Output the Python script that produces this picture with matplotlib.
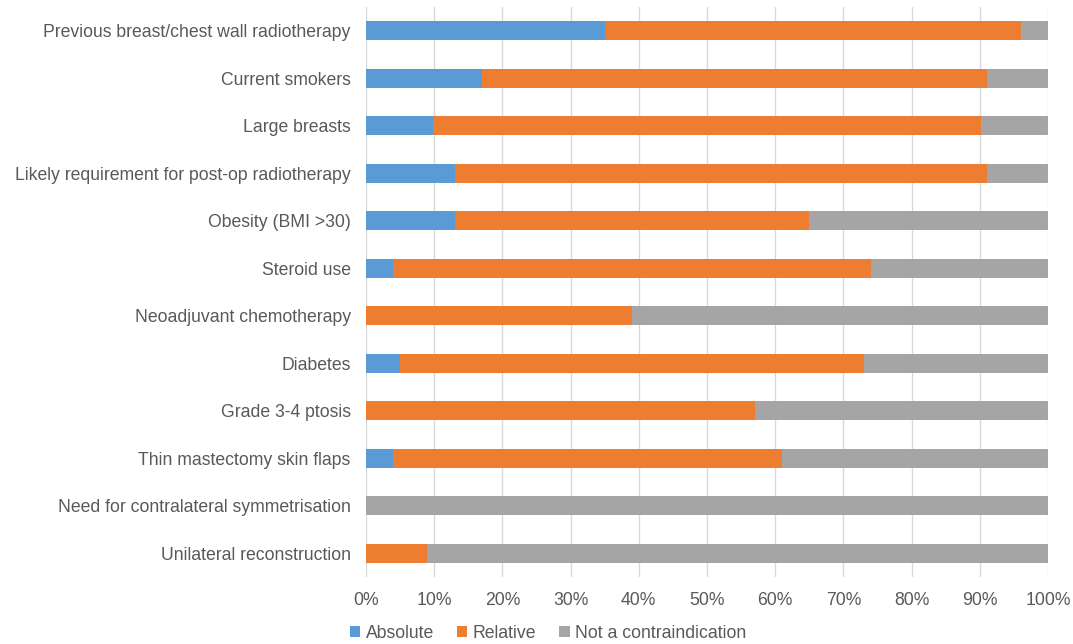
import matplotlib.pyplot as plt
import numpy as np

categories = [
    "Previous breast/chest wall radiotherapy",
    "Current smokers",
    "Large breasts",
    "Likely requirement for post-op radiotherapy",
    "Obesity (BMI >30)",
    "Steroid use",
    "Neoadjuvant chemotherapy",
    "Diabetes",
    "Grade 3-4 ptosis",
    "Thin mastectomy skin flaps",
    "Need for contralateral symmetrisation",
    "Unilateral reconstruction",
]
absolute = [35, 17, 9.8, 13, 13, 4, 0, 5, 0, 4, 0, 0]
relative = [61, 74, 80.4, 78, 52, 70, 39, 68, 57, 57, 0, 9]
not_contra = [4, 9, 9.8, 9, 35, 26, 61, 27, 43, 39, 100, 91]

plt.rcParams['font.family'] = ['Liberation Sans', 'DejaVu Sans']
text_col = '#595959'
fs = 12.7

fig = plt.figure(figsize=(10.73, 6.44), dpi=100)
ax = fig.add_axes([366/1073, 1 - 577/644, (1048-366)/1073, (577-7)/644])

y = np.arange(len(categories))
h = 0.4
ab = np.array(absolute)
rel = np.array(relative)
nc = np.array(not_contra)
ax.barh(y, ab, height=h, color='#5B9BD5', label='Absolute', zorder=3)
ax.barh(y, rel, left=ab, height=h, color='#ED7D31', label='Relative', zorder=3)
ax.barh(y, nc, left=ab + rel, height=h, color='#A5A5A5', label='Not a contraindication', zorder=3)

ax.set_xlim(0, 100)
ax.set_ylim(len(categories) - 0.5, -0.5)
ax.set_xticks(np.arange(0, 101, 10))
ax.set_xticklabels([f"{v}%" for v in range(0, 101, 10)])
ax.set_yticks(y)
ax.set_yticklabels(categories)
ax.tick_params(length=0, labelsize=fs, labelcolor=text_col)
ax.tick_params(axis='x', pad=11)
ax.tick_params(axis='y', pad=11)
ax.grid(axis='x', color='#D9D9D9', linewidth=1, zorder=0)
for s in ax.spines.values():
    s.set_visible(False)

fig.legend(loc='center', bbox_to_anchor=(548/1073, 1 - 633/644), ncol=3, frameon=False,
           fontsize=fs, labelcolor=text_col, handlelength=0.6, handleheight=0.6,
           handletextpad=0.3, columnspacing=1.3, borderaxespad=0)

plt.savefig('out.png', dpi=100)
